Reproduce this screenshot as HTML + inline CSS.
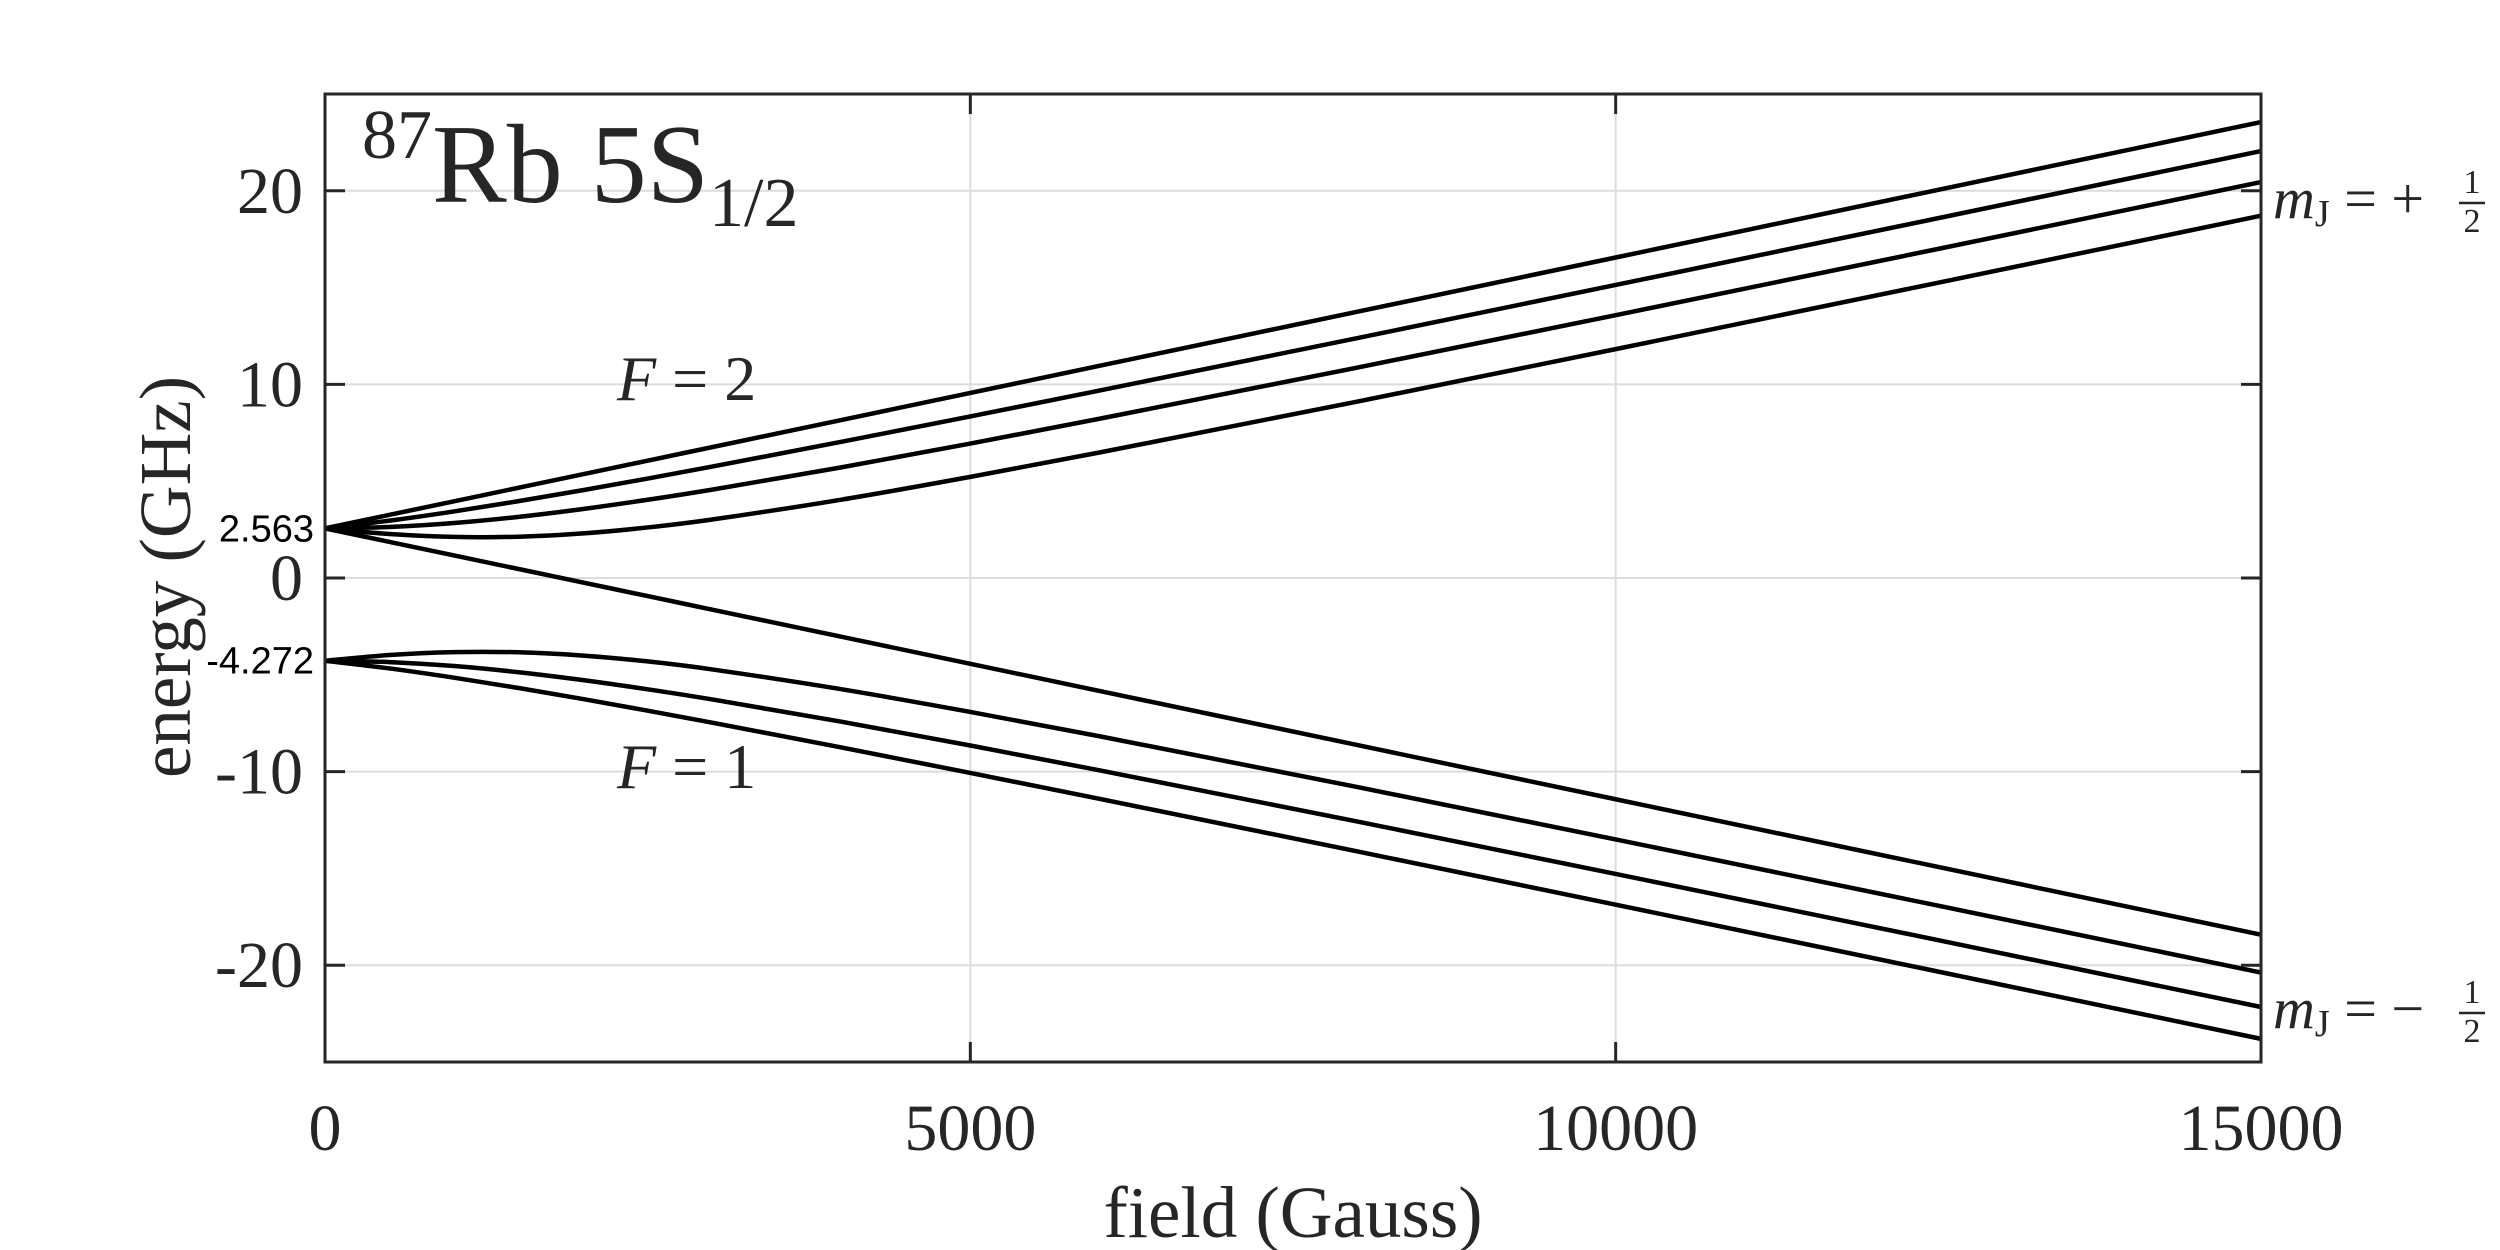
<!DOCTYPE html>
<html><head><meta charset="utf-8"><style>
html,body{margin:0;padding:0;background:#fff;}
svg{display:block;}
text{font-family:"Liberation Serif",serif;fill:#262626;}
</style></head><body>
<svg id="chart" width="2500" height="1250" viewBox="0 0 2500 1250" xmlns="http://www.w3.org/2000/svg">
<g id="grid"></g>
<g id="curves"></g>
<g id="axes"></g>
<g id="labels"></g>
<text x="362" y="202" font-size="112" fill="#000"><tspan font-size="70" dy="-44">87</tspan><tspan dy="44">Rb 5S</tspan><tspan font-size="70" dy="24">1/2</tspan></text>
<text x="617" y="400" font-size="64" font-style="italic">F<tspan font-style="normal"> = 2</tspan></text>
<text x="617" y="788" font-size="64" font-style="italic">F<tspan font-style="normal"> = 1</tspan></text>
<g>
<text x="2273" y="218" font-size="58" font-style="italic">m<tspan font-style="normal" font-size="38" dy="8">J</tspan><tspan font-style="normal" font-size="58" dy="-8"> = +</tspan></text>
<text x="2472" y="193" font-size="34" text-anchor="middle">1</text>
<line x1="2459" x2="2485" y1="203" y2="203" stroke="#262626" stroke-width="2.5"/>
<text x="2472" y="232" font-size="34" text-anchor="middle">2</text>
</g>
<g>
<text x="2273" y="1028" font-size="58" font-style="italic">m<tspan font-style="normal" font-size="38" dy="8">J</tspan><tspan font-style="normal" font-size="58" dy="-8"> = −</tspan></text>
<text x="2472" y="1003" font-size="34" text-anchor="middle">1</text>
<line x1="2459" x2="2485" y1="1013" y2="1013" stroke="#262626" stroke-width="2.5"/>
<text x="2472" y="1042" font-size="34" text-anchor="middle">2</text>
</g>
<text x="1293" y="1237" font-size="73" text-anchor="middle">field (Gauss)</text>
<text transform="translate(190,577) rotate(-90)" font-size="73" text-anchor="middle">energy (GHz)</text>
</svg>
<script>
const fields = [0,500,1000,1500,2000,2500,3000,4000,5000,6000,8000,10000,12500,15000];
const f2m2 = [2.563,3.2626,3.9622,4.6618,5.3614,6.061,6.7605,8.1597,9.5589,10.9581,13.7564,16.5548,20.0528,23.5507];
const f2m1 = [2.563,2.9615,3.4379,3.9693,4.5394,5.1372,5.7552,7.0325,8.3459,9.6817,12.3935,15.1363,18.588,22.0548];
const f2m0 = [2.563,2.6342,2.8395,3.1583,3.5662,4.0409,4.5649,5.7128,6.9441,8.2251,10.8705,13.5758,17.0003,20.4511];
const f2mm1 = [2.563,2.2727,2.1225,2.1335,2.3042,2.6112,3.0223,4.0465,5.224,6.4815,9.1139,11.8213,15.2534,18.7127];
const f2mm2 = [2.563,1.8634,1.1638,0.4642,-0.2354,-0.935,-1.6345,-3.0337,-4.4329,-5.8321,-8.6304,-11.4288,-14.9268,-18.4247];
const f1m1 = [-4.272,-4.6715,-5.1493,-5.6821,-6.2536,-6.8528,-7.4722,-8.7523,-10.0685,-11.4071,-14.1243,-16.8727,-20.3314,-23.8052];
const f1m0 = [-4.272,-4.3428,-4.5481,-4.8669,-5.2748,-5.7495,-6.2735,-7.4214,-8.6527,-9.9337,-12.5791,-15.2844,-18.7089,-22.1597];
const f1mm1 = [-4.272,-3.9799,-3.8283,-3.8379,-4.0072,-4.3088,-4.7225,-5.7439,-6.9186,-8.1733,-10.8003,-13.5021,-16.9272,-20.3795];
const xTicks = [0,5000,10000,15000];
const yTicks = [20,10,0,-10,-20];
const specialTicks = [2.563,-4.272];

const L=325,R=2261,T=94,B=1062;
const xS=v=>L+(v-0)/(15000-0)*(R-L);
const yS=v=>T+(25-v)/(50)*(B-T);
const NS="http://www.w3.org/2000/svg";
function mk(tag,attrs,parent){const e=document.createElementNS(NS,tag);for(const k in attrs)e.setAttribute(k,attrs[k]);parent.appendChild(e);return e;}
const grid=document.getElementById('grid'),axes=document.getElementById('axes'),curves=document.getElementById('curves'),labels=document.getElementById('labels');
xTicks.forEach(v=>{
  if(v>0&&v<15000){const g=mk('line',{x1:xS(v),x2:xS(v),y1:T,y2:B,stroke:'#dcdcdc','stroke-width':2},grid);
  
  }
  [[B,B-20],[T,T+20]].forEach(p=>{const t=mk('line',{x1:xS(v),x2:xS(v),y1:p[0],y2:p[1],stroke:'#262626','stroke-width':3},axes);
  
  });
  const tx=mk('text',{x:xS(v),y:1150,'font-size':66,'text-anchor':'middle'},labels);tx.textContent=v;
  
  
});
yTicks.forEach(v=>{
  const g=mk('line',{x1:L,x2:R,y1:yS(v),y2:yS(v),stroke:'#dcdcdc','stroke-width':2},grid);
  
  
  [[L,L+20],[R,R-20]].forEach(p=>{const t=mk('line',{x1:p[0],x2:p[1],y1:yS(v),y2:yS(v),stroke:'#262626','stroke-width':3},axes);
  
  });
  const tx=mk('text',{x:303,y:yS(v)+22,'font-size':66,'text-anchor':'end'},labels);tx.textContent=v;
  
  
});
specialTicks.forEach(v=>{
  const tx=mk('text',{x:314,y:yS(v)+13,'font-size':38,'text-anchor':'end',style:'font-family:"Liberation Sans",sans-serif;fill:#000'},labels);tx.textContent=v;
  
  
});
const fr=mk('rect',{x:L,y:T,width:R-L,height:B-T,fill:'none',stroke:'#262626','stroke-width':3},axes);


function path(xs,ys){
  const p=xs.map((x,i)=>[xS(x),yS(ys[i])]);let d=`M${p[0][0]},${p[0][1]}`;
  for(let i=0;i<p.length-1;i++){const p0=p[Math.max(0,i-1)],p1=p[i],p2=p[i+1],p3=p[Math.min(p.length-1,i+2)];
    const h=p2[0]-p1[0];
    const s1=(p2[1]-p0[1])/((p2[0]-p0[0])||1),s2=(p3[1]-p1[1])/((p3[0]-p1[0])||1);
    const c1=[p1[0]+h/3,p1[1]+s1*h/3],c2=[p2[0]-h/3,p2[1]-s2*h/3];
    d+=`C${c1[0]},${c1[1]} ${c2[0]},${c2[1]} ${p2[0]},${p2[1]}`;}
  return d;}
[[f2m2,'f2-m2'],[f2m1,'f2-m1'],[f2m0,'f2-m0'],[f2mm1,'f2-m-1'],[f2mm2,'f2-m-2'],[f1m1,'f1-m1'],[f1m0,'f1-m0'],[f1mm1,'f1-m-1']].forEach(s=>{
  const e=mk('path',{d:path(fields,s[0]),fill:'none',stroke:'#000','stroke-width':4.5,'stroke-linejoin':'round'},curves);
  
  
});
</script>
</body></html>
